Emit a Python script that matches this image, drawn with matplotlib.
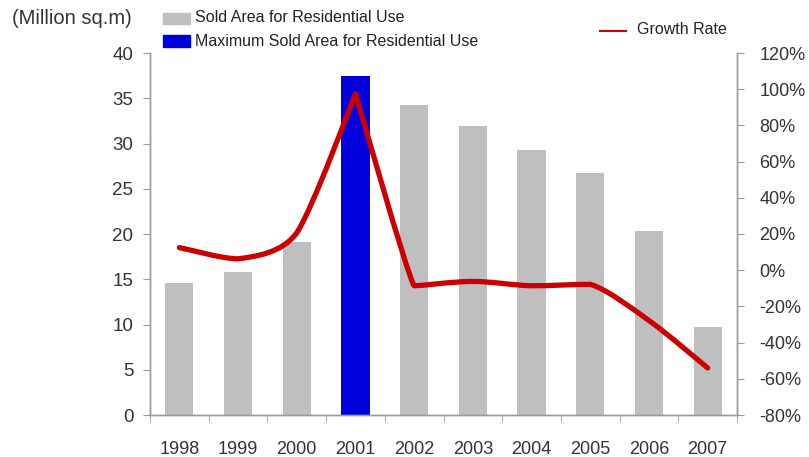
import numpy as np
import matplotlib
matplotlib.use("Agg")
import matplotlib.pyplot as plt
from matplotlib.path import Path
from matplotlib.patches import PathPatch, Rectangle
from matplotlib.lines import Line2D
from matplotlib.ticker import FuncFormatter

years = ["1998", "1999", "2000", "2001", "2002", "2003", "2004", "2005", "2006", "2007"]
sold_area = [14.6, 15.8, 19.1, 37.5, 34.2, 31.9, 29.3, 26.7, 20.3, 9.7]
growth = [12.5, 6.3, 20.7, 97.5, -8.6, -6.2, -8.6, -7.8, -27.8, -54.0]

GREY = "#bfbfbf"
BLUE = "#0000dd"
RED = "#cc0000"
AXIS = "#9a9a9a"
TXT = "#333333"

plt.rcParams["font.family"] = ["Liberation Sans", "DejaVu Sans"]

fig = plt.figure(figsize=(8.09, 4.57), dpi=100)
ax = fig.add_axes([150 / 809, 1 - 415 / 457, 587 / 809, 362 / 457])
ax2 = ax.twinx()

x = np.arange(len(years))
top = int(np.argmax(sold_area))
colors = [BLUE if i == top else GREY for i in range(len(years))]
ax.bar(x, sold_area, width=0.48, color=colors, zorder=2)

ax.set_xlim(-0.5, len(years) - 0.5)
ax.set_ylim(0, 40)
ax.set_yticks(range(0, 41, 5))
ax.set_xticks(x)
ax.set_xticklabels(years)
ax.set_xticks(np.arange(-0.5, len(years), 1), minor=True)
ax.tick_params(axis="x", which="major", length=0, pad=19, labelsize=13, labelcolor=TXT)
ax.tick_params(axis="x", which="minor", length=5, color=AXIS, direction="out")
ax.tick_params(axis="y", length=5, color=AXIS, labelsize=13.5, labelcolor=TXT, pad=7)

ax2.set_ylim(-80, 120)
ax2.set_yticks(range(-80, 121, 20))
ax2.yaxis.set_major_formatter(FuncFormatter(lambda v, p: "%d%%" % v))
ax2.tick_params(axis="y", length=5, color=AXIS, labelsize=13, labelcolor=TXT, pad=11)

# smoothed growth curve: Catmull-Rom handles, shortened at sharp turns
# and clamped so that no segment overshoots its end values
pts = np.column_stack([x, growth]).astype(float)
disp = ax2.transData.transform(pts)
n = len(pts)
kk = np.full(n, 1 / 6.0)
for i in range(1, n - 1):
    d1 = disp[i] - disp[i - 1]
    d2 = disp[i + 1] - disp[i]
    c = np.dot(d1, d2) / (np.linalg.norm(d1) * np.linalg.norm(d2))
    kk[i] = (1 / 6.0) * ((1 + c) / 2) ** 2

verts = [pts[0]]
codes = [Path.MOVETO]
for i in range(n - 1):
    p0 = pts[i - 1] if i > 0 else pts[i]
    p1 = pts[i]
    p2 = pts[i + 1]
    p3 = pts[i + 2] if i + 2 < n else pts[i + 1]
    lo, hi = min(p1[1], p2[1]), max(p1[1], p2[1])
    c1 = p1 + (p2 - p0) * kk[i]
    c2 = p2 - (p3 - p1) * kk[i + 1]
    c1[1] = np.clip(c1[1], lo, hi)
    c2[1] = np.clip(c2[1], lo, hi)
    verts += [c1, c2, p2]
    codes += [Path.CURVE4] * 3
ax2.add_patch(PathPatch(Path(verts, codes), fill=False, edgecolor=RED,
                        lw=3.8, capstyle="round", joinstyle="round", zorder=3))

for a in (ax, ax2):
    a.spines["top"].set_visible(False)
    for s in ("left", "right", "bottom"):
        a.spines[s].set_color(AXIS)
        a.spines[s].set_linewidth(1.0)

# unit label and legend entries
fig.text(12 / 809, 1 - 19 / 457, "(Million sq.m)", fontsize=14.5, color=TXT, va="center")
fig.add_artist(Rectangle((163 / 809, 1 - 24 / 457), 27 / 809, 11 / 457,
                         transform=fig.transFigure, color=GREY))
fig.text(195 / 809, 1 - 18 / 457, "Sold Area for Residential Use", fontsize=11.5,
         color="#222222", va="center")
fig.add_artist(Rectangle((163 / 809, 1 - 47 / 457), 27 / 809, 12 / 457,
                         transform=fig.transFigure, color=BLUE))
fig.text(195 / 809, 1 - 42 / 457, "Maximum Sold Area for Residential Use", fontsize=11.5,
         color="#222222", va="center")
fig.add_artist(Line2D([600 / 809, 626 / 809], [1 - 31 / 457, 1 - 31 / 457],
                      transform=fig.transFigure, color=RED, lw=1.5))
fig.text(637 / 809, 1 - 30 / 457, "Growth Rate", fontsize=11.5, color="#222222", va="center")

fig.savefig("out.png", dpi=100)
